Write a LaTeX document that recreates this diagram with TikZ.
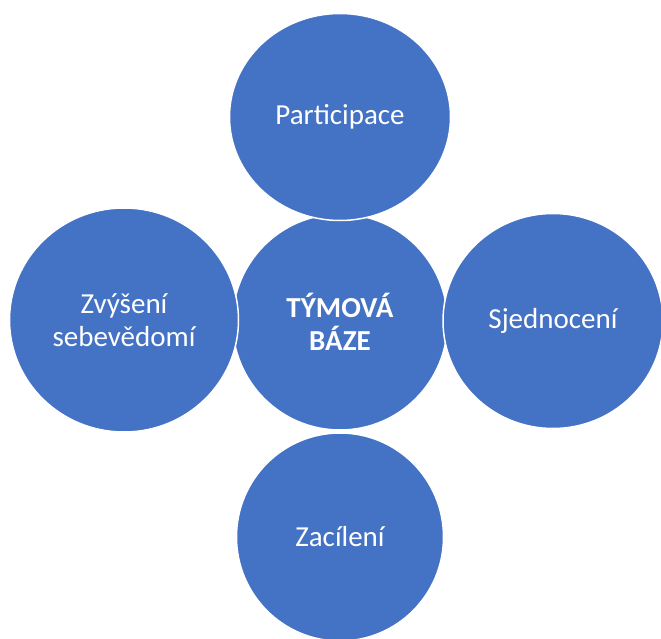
\documentclass[tikz,border=0pt]{standalone}
\usepackage{fontspec}
\setmainfont{Carlito}
\usetikzlibrary{shapes.geometric}
\definecolor{petal}{HTML}{4472C4}
\begin{document}
\begin{tikzpicture}[x=1pt,y=-1pt,
  bubble/.style={ellipse, fill=petal, draw=white, line width=1.5pt,
    inner sep=0pt, text=white, align=center,
    font=\fontsize{29}{33}\selectfont},
  hub/.style={bubble, font=\fontsize{29}{33}\selectfont\bfseries}]
\useasboundingbox (0,0) rectangle (661,639);
% central hub first, the four petals overlap it
\node[hub, minimum width=215pt, minimum height=216pt] (base) at (340,322) {TÝMOVÁ\\BÁZE};
\node[bubble, minimum width=221pt, minimum height=207pt] (part) at (340,117) {Participace};
\node[bubble, minimum width=229pt, minimum height=224pt] (self) at (124,320) {Zvýšení\\sebevědomí};
\node[bubble, minimum width=220pt, minimum height=215pt] (unite) at (553,321) {Sjednocení};
\node[bubble, minimum width=207pt, minimum height=208pt] (aim) at (340,537) {Zacílení};
\end{tikzpicture}
\end{document}
